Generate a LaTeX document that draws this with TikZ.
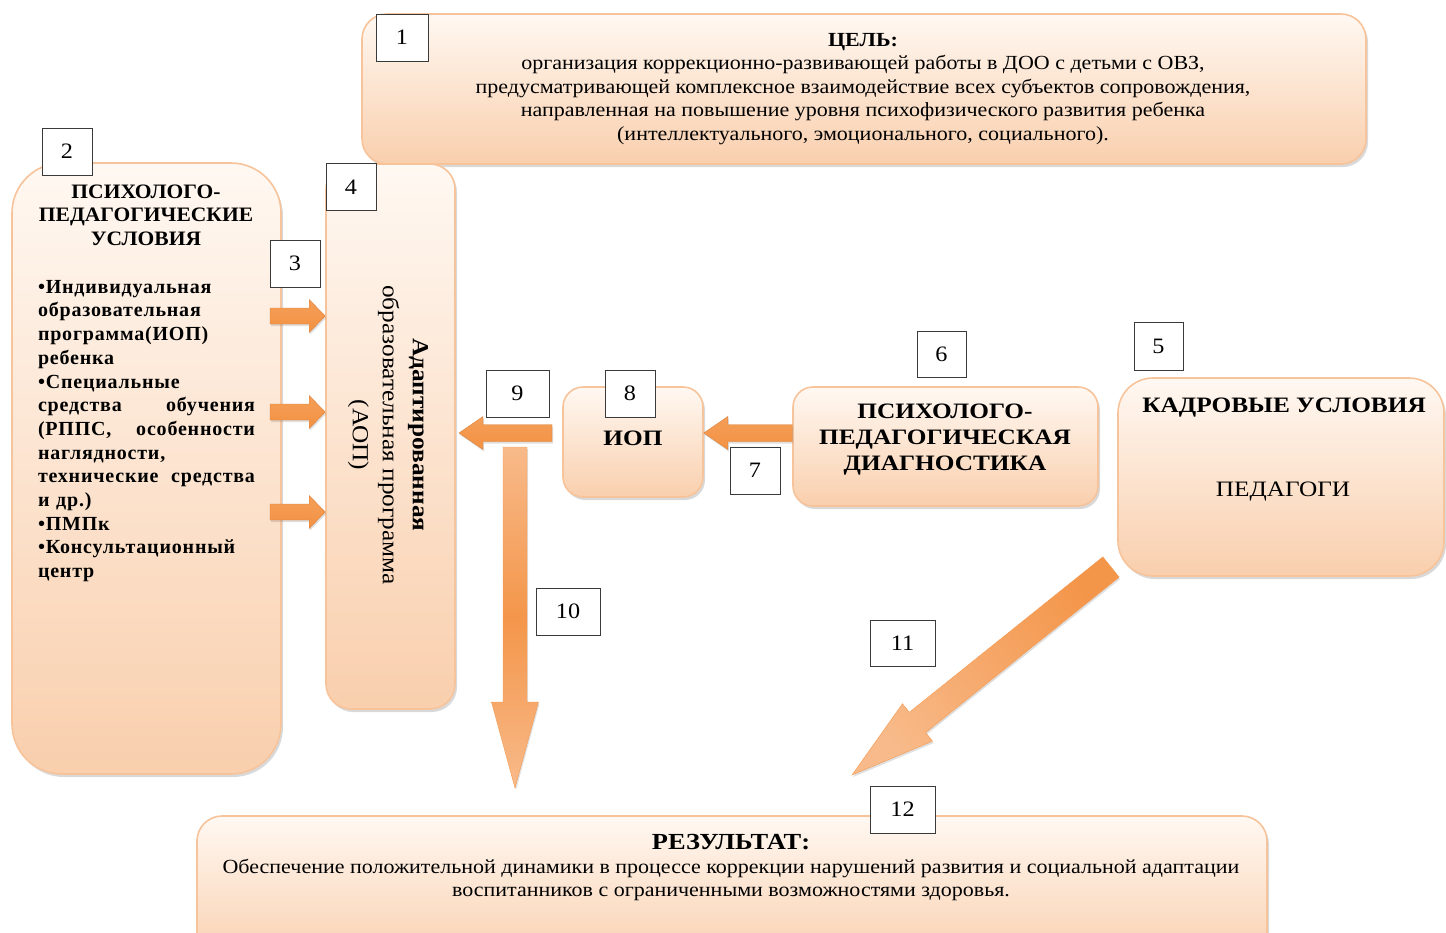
\documentclass[tikz,border=0pt]{standalone}
\usepackage{fontspec}
\setmainfont[FakeStretch=1.1]{Liberation Serif}
\newfontfamily\titlefont[FakeStretch=1.05]{Liberation Serif}
\newfontfamily\listfont[LetterSpace=4]{Liberation Serif}
\newfontfamily\widefont[FakeStretch=1.15]{Liberation Serif}
\usetikzlibrary{calc,shadows}
\definecolor{edge}{HTML}{F7C39A}
\definecolor{ftop}{HTML}{FFF8F2}
\definecolor{fbot}{HTML}{F9CFAD}
\definecolor{arr}{HTML}{F39243}
\definecolor{arrl}{HTML}{F8BA8A}
\definecolor{tagedge}{HTML}{3A3A3A}
\newcommand\blockarrow[6]{%
  \coordinate (ba-h) at ($(#2)!#5!(#1)$);
  \path[#6] ($(#1)!#3!90:(#2)$) -- ($(ba-h)!#3!90:(#2)$) -- ($(ba-h)!#4!90:(#2)$)
    -- (#2) -- ($(ba-h)!#4!-90:(#2)$) -- ($(ba-h)!#3!-90:(#2)$) -- ($(#1)!#3!-90:(#2)$) -- cycle;
}
\tikzset{
  box/.style={draw=edge, line width=1.6pt, top color=ftop, bottom color=fbot, inner sep=0pt,
    drop shadow={shadow xshift=2pt, shadow yshift=-3pt, opacity=0.3, fill=gray}},
  tag/.style={draw=tagedge, fill=white, line width=0.8pt, minimum width=50pt, minimum height=47pt,
    inner sep=0pt, font=\fontsize{22}{22}\selectfont},
  harrow/.style={top color=arr!70!arrl, bottom color=arr, draw=arr!90!black, line width=0.4pt,
    drop shadow={shadow xshift=1pt, shadow yshift=-2pt, opacity=0.25, fill=gray}},
  varrow/.style={top color=arrl, bottom color=arrl, middle color=arr!90!arrl, draw=arr!80!arrl, line width=0.4pt,
    drop shadow={shadow xshift=1pt, shadow yshift=-2pt, opacity=0.25, fill=gray}},
  darrow/.style={top color=arr!90!arrl, bottom color=arrl, shading angle=-51, draw=arr!80!arrl, line width=0.4pt,
    drop shadow={shadow xshift=1pt, shadow yshift=-2pt, opacity=0.25, fill=gray}},
  txt/.style={inner sep=0pt, align=center}
}
\begin{document}
\begin{tikzpicture}[x=1pt, y=-1pt]
\useasboundingbox (0,0) rectangle (1446,932);
% boxes
\node[box, rounded corners=25pt, minimum width=1004pt, minimum height=150pt] (goal) at (864,89) {};
\node[box, rounded corners=50pt, minimum width=269pt, minimum height=611pt] (cond) at (146.5,468.5) {};
\node[box, rounded corners=25pt, minimum width=129pt, minimum height=545pt] (aop) at (390.5,436.5) {};
\node[box, rounded corners=20pt, minimum width=140pt, minimum height=110pt] (iop) at (633,442) {};
\node[box, rounded corners=20pt, minimum width=305pt, minimum height=119pt] (diag) at (945.5,446.5) {};
\node[box, rounded corners=35pt, minimum width=326pt, minimum height=198pt] (staff) at (1281,477) {};
\node[box, rounded corners=25pt, minimum width=1070pt, minimum height=150pt] (result) at (732,891) {};
% texts
\node[txt, font=\fontsize{20}{23.5}\selectfont] (goaltxt) at (863,89)
  {\textbf{ЦЕЛЬ:}\\
   организация коррекционно-развивающей работы в ДОО с детьми с ОВЗ,\\
   предусматривающей комплексное взаимодействие всех субъектов сопровождения,\\
   направленная на повышение уровня психофизического развития ребенка\\
   (интеллектуального, эмоционального, социального).};
\node[txt, font=\fontsize{20.5}{23.5}\titlefont\bfseries] (condtitle) at (146,215)
  {ПСИХОЛОГО-\\ПЕДАГОГИЧЕСКИЕ\\УСЛОВИЯ};
\node[inner sep=0pt, text width=217pt, align=left, font=\fontsize{20}{23.7}\listfont\bfseries] (condlist) at (146.5,431)
  {•Индивидуальная\\
   образовательная\\
   программа(ИОП)\\
   ребенка\\
   •Специальные\\
   средства\hfill обучения\\
   (РППС,\hfill особенности\\
   наглядности,\\
   технические\hfill средства\\
   и др.)\\
   •ПМПк\\
   •Консультационный\\
   центр};
\node[txt, rotate=-90, font=\fontsize{23}{30}\selectfont] (aoptxt) at (388,435)
  {\textbf{Адаптированная}\\образовательная программа\\(АОП)};
\node[txt, font=\fontsize{22}{26}\widefont\bfseries] (ioptxt) at (633,438) {ИОП};
\node[txt, font=\fontsize{22}{26}\widefont\bfseries] (diagtxt) at (945,440)
  {ПСИХОЛОГО-\\ПЕДАГОГИЧЕСКАЯ\\ДИАГНОСТИКА};
\node[txt, font=\fontsize{22}{26}\widefont\bfseries] (stafftitle) at (1284,408) {КАДРОВЫЕ УСЛОВИЯ};
\node[txt, font=\fontsize{22}{26}\widefont] (stafftxt) at (1283,492) {ПЕДАГОГИ};
\node[txt, font=\fontsize{20}{23.5}\selectfont] (resulttxt) at (731,868)
  {{\fontsize{23}{24}\widefont\bfseries РЕЗУЛЬТАТ:}\\
   Обеспечение положительной динамики в процессе коррекции нарушений развития и социальной адаптации\\
   воспитанников с ограниченными возможностями здоровья.};
% arrow end points
\coordinate (a3s) at (270,316);
\coordinate (a3t) at (a3s -| aop.west);
\coordinate (b3s) at (270,412);
\coordinate (b3t) at (b3s -| aop.west);
\coordinate (c3s) at (270,512);
\coordinate (c3t) at (c3s -| aop.west);
\coordinate (a9s) at (552,433);
\coordinate (a9t) at (459,433);
\coordinate (a7s) at (diag.west |- a9s);
\coordinate (a7t) at (iop.east |- a9s);
\coordinate (a10s) at (515,447);
\coordinate (a10t) at (515,788);
\coordinate (a11s) at (1111,567);
\coordinate (a11t) at (852,775);
% arrows
\blockarrow{a3s}{a3t}{8pt}{16.5pt}{16pt}{harrow}
\blockarrow{b3s}{b3t}{8pt}{16.5pt}{16pt}{harrow}
\blockarrow{c3s}{c3t}{8pt}{16.5pt}{16pt}{harrow}
\blockarrow{a9s}{a9t}{8.5pt}{16.5pt}{24pt}{harrow}
\blockarrow{a7s}{a7t}{8.5pt}{16.5pt}{24pt}{harrow}
\blockarrow{a10s}{a10t}{12pt}{23.5pt}{86pt}{varrow}
\blockarrow{a11s}{a11t}{13pt}{24pt}{84pt}{darrow}
% number tags
\node[tag, minimum width=52pt] (t1) at (402,37.5) {1};
\node[tag] (t2) at (67,151.5) {2};
\node[tag] (t3) at (295,263.5) {3};
\node[tag] (t4) at (351,187) {4};
\node[tag, minimum width=49pt, minimum height=48pt] (t5) at (1158.5,346) {5};
\node[tag, minimum width=49pt, minimum height=46pt] (t6) at (941.5,354) {6};
\node[tag] (t7) at (755,470.5) {7};
\node[tag] (t8) at (630,393.5) {8};
\node[tag, minimum width=63pt] (t9) at (517.5,393.5) {9};
\node[tag, minimum width=64pt] (t10) at (568,611.5) {10};
\node[tag, minimum width=65pt, minimum height=46pt] (t11) at (902.5,643) {11};
\node[tag, minimum width=65pt] (t12) at (902.5,809.5) {12};
\end{tikzpicture}
\end{document}
